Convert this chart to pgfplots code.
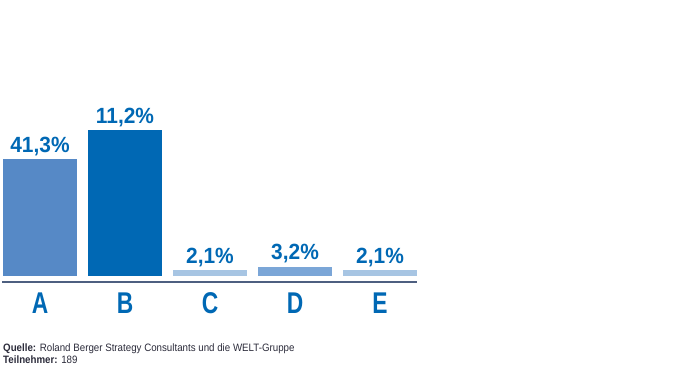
\documentclass[border=0pt]{standalone}
\usepackage{pgfplots}
\pgfplotsset{compat=1.18}
\usepackage{fontspec}
\setmainfont{Liberation Sans}
\newfontfamily\narrowf[FakeStretch=0.91]{Liberation Sans}
\newfontfamily\condf[FakeStretch=0.76]{Liberation Sans}
\newfontfamily\valf[FakeStretch=0.95]{Liberation Sans}
\definecolor{barA}{HTML}{5689C6}
\definecolor{barB}{HTML}{0068B4}
\definecolor{barC}{HTML}{A7C5E3}
\definecolor{barD}{HTML}{7BA6D7}
\definecolor{lbl}{HTML}{0068B4}
\definecolor{axl}{HTML}{4D5F80}
\definecolor{foot}{HTML}{2B2B3A}
\begin{document}
\begin{tikzpicture}[x=1pt,y=1pt]
\path[use as bounding box] (0,0) rectangle (700,370);
\begin{axis}[
  at={(2pt,88pt)}, anchor=south west,
  scale only axis, width=415pt, height=182pt,
  xmin=-0.447, xmax=4.435, ymin=-6, ymax=176,
  axis x line=bottom, axis y line=none,
  axis line style={-, draw=axl, line width=1.3pt},
  xtick={0,1,2,3,4}, xticklabels={A,B,C,D,E},
  major tick length=0pt,
  xticklabel style={anchor=base, yshift=-31pt, inner sep=0pt, text=lbl, font=\condf\bfseries\fontsize{30}{30}\selectfont},
  ybar, bar width=74pt, bar shift=0pt,
  nodes near coords, point meta=explicit symbolic,
  every node near coord/.style={anchor=base, yshift=7pt, inner sep=0pt, text=lbl, font=\valf\bfseries\fontsize{22}{22}\selectfont},
  clip=false,
]
\addplot[fill=barA, draw=none] coordinates {(0,116.7) [41,3\%]};
\addplot[fill=barB, draw=none] coordinates {(1,146) [11,2\%]};
\addplot[fill=barC, draw=none] coordinates {(2,6) [2,1\%]};
\addplot[fill=barD, draw=none] coordinates {(3,9.3) [3,2\%]};
\addplot[fill=barC, draw=none] coordinates {(4,6) [2,1\%]};
\end{axis}
\node[anchor=base west, inner sep=0pt, text=foot, font=\narrowf\fontsize{10.7}{10.7}\selectfont] at (3,19) {\textbf{Quelle:} Roland Berger Strategy Consultants und die WELT-Gruppe};
\node[anchor=base west, inner sep=0pt, text=foot, font=\narrowf\fontsize{10.7}{10.7}\selectfont] at (3,6.7) {\textbf{Teilnehmer:} 189};
\end{tikzpicture}
\end{document}
